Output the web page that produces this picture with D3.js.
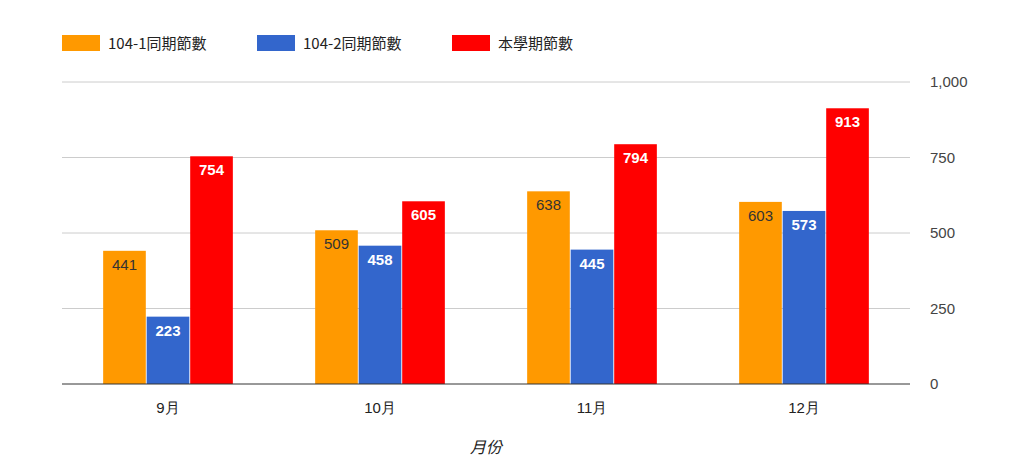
<!DOCTYPE html>
<html><head><meta charset="utf-8">
<script src="https://cdn.jsdelivr.net/npm/d3@7"></script>
<style>body{margin:0;background:#fff;font-family:"Noto Sans CJK TC","Liberation Sans",sans-serif;}</style>
</head><body><div id="chart"></div>
<script>
const months = ["9月", "10月", "11月", "12月"];
const seriesNames = ["104-1同期節數", "104-2同期節數", "本學期節數"];
const s1 = [441, 509, 638, 603];
const s2 = [223, 458, 445, 573];
const s3 = [754, 605, 794, 913];
const yTicks = [0, 250, 500, 750, 1000];
const colors = ["#ff9900", "#3366cc", "#ff0000"];
const labelColors = ["#333", "#fff", "#fff"];

const W = 1024, H = 475;
const m = {left: 62, right: 114, top: 82, bottom: 91};
const svg = d3.select("#chart").append("svg").attr("width", W).attr("height", H);

const x = d3.scaleBand().domain(months).range([m.left, W - m.right]).paddingInner(0.38).paddingOuter(0.19);
const xs = d3.scaleBand().domain(d3.range(3)).range([0, x.bandwidth()]).padding(0.02);
const y = d3.scaleLinear().domain([0, 1000]).range([H - m.bottom, m.top]);

svg.append("g").selectAll("line").data(yTicks.slice(1)).join("line")
  .attr("x1", m.left).attr("x2", W - m.right)
  .attr("y1", d => y(d)).attr("y2", d => y(d)).attr("stroke", "#ccc");

svg.append("g").attr("transform", `translate(${W - m.right + 20},0)`)
  .call(d3.axisRight(y).tickValues(yTicks).tickSize(0).tickPadding(0))
  .call(g => g.select(".domain").remove())
  .selectAll("text").attr("font-size", 15).attr("fill", "#444").attr("font-family", "Liberation Sans, sans-serif");

const data = [s1, s2, s3];
months.forEach((mo, i) => {
  const g = svg.append("g").attr("transform", `translate(${x(mo)},0)`);
  data.forEach((s, k) => {
    const v = s[i];
    g.append("rect").attr("x", xs(k)).attr("width", xs.bandwidth())
      .attr("y", y(v)).attr("height", y(0) - y(v)).attr("fill", colors[k]);
    g.append("text").attr("x", xs(k) + xs.bandwidth() / 2).attr("y", y(v) + 19)
      .attr("text-anchor", "middle").attr("font-size", 15)
      .attr("font-family", "Liberation Sans, sans-serif")
      .attr("font-weight", k === 0 ? "normal" : "bold")
      .attr("fill", labelColors[k]).text(v);
  });
});

svg.append("line").attr("x1", m.left).attr("x2", W - m.right)
  .attr("y1", y(0)).attr("y2", y(0)).attr("stroke", "#333");

svg.append("g").attr("transform", `translate(0,${y(0)})`)
  .call(d3.axisBottom(x).tickSize(0).tickPadding(18))
  .call(g => g.select(".domain").remove())
  .selectAll("text").attr("font-size", 15).attr("fill", "#222");

svg.append("text").attr("x", (m.left + W - m.right) / 2).attr("y", 453)
  .attr("text-anchor", "middle").attr("font-size", 16).attr("font-style", "italic")
  .attr("fill", "#222").text("月份");

const legX = [62, 257, 452];
seriesNames.forEach((n, k) => {
  svg.append("rect").attr("x", legX[k]).attr("y", 35).attr("width", 38).attr("height", 16).attr("fill", colors[k]);
  svg.append("text").attr("x", legX[k] + 46).attr("y", 49).attr("font-size", 15).attr("fill", "#222").text(n);
});
</script></body></html>
